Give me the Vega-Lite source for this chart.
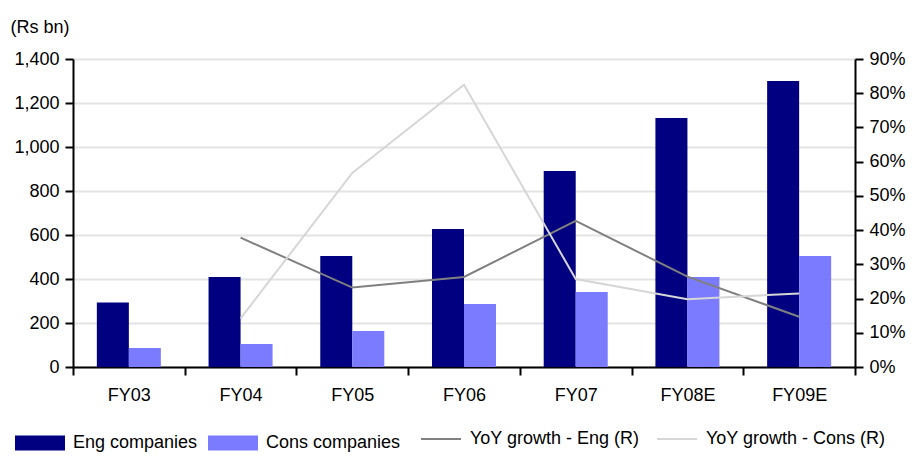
{
  "$schema": "https://vega.github.io/schema/vega-lite/v6.json",
  "width": 782,
  "height": 308,
  "autosize": {"type": "none"},
  "padding": {"left": 73, "top": 59, "right": 62, "bottom": 90},
  "background": "white",
  "config": {
    "font": "Liberation Sans, Arial, sans-serif",
    "view": {"stroke": null},
    "axis": {"labelFont": "Liberation Sans, Arial, sans-serif", "labelFontSize": 18, "labelColor": "#000", "domainColor": "#000", "domainWidth": 2, "tickColor": "#000", "tickWidth": 2, "tickSize": 8},
    "legend": {"labelFont": "Liberation Sans, Arial, sans-serif", "labelFontSize": 18, "labelColor": "#000", "padding": 0, "labelLimit": 400}
  },
  "datasets": {
    "bars": [
      {"fy": "FY03", "series": "Eng companies", "value": 293},
      {"fy": "FY03", "series": "Cons companies", "value": 86},
      {"fy": "FY04", "series": "Eng companies", "value": 409},
      {"fy": "FY04", "series": "Cons companies", "value": 105},
      {"fy": "FY05", "series": "Eng companies", "value": 505},
      {"fy": "FY05", "series": "Cons companies", "value": 164},
      {"fy": "FY06", "series": "Eng companies", "value": 627},
      {"fy": "FY06", "series": "Cons companies", "value": 286},
      {"fy": "FY07", "series": "Eng companies", "value": 891},
      {"fy": "FY07", "series": "Cons companies", "value": 341},
      {"fy": "FY08E", "series": "Eng companies", "value": 1132},
      {"fy": "FY08E", "series": "Cons companies", "value": 409},
      {"fy": "FY09E", "series": "Eng companies", "value": 1300},
      {"fy": "FY09E", "series": "Cons companies", "value": 505}
    ],
    "growth": [
      {"fy": "FY04", "series": "YoY growth - Eng (R)", "value": 0.378},
      {"fy": "FY05", "series": "YoY growth - Eng (R)", "value": 0.232},
      {"fy": "FY06", "series": "YoY growth - Eng (R)", "value": 0.263},
      {"fy": "FY07", "series": "YoY growth - Eng (R)", "value": 0.427},
      {"fy": "FY08E", "series": "YoY growth - Eng (R)", "value": 0.264},
      {"fy": "FY09E", "series": "YoY growth - Eng (R)", "value": 0.147},
      {"fy": "FY04", "series": "YoY growth - Cons (R)", "value": 0.142},
      {"fy": "FY05", "series": "YoY growth - Cons (R)", "value": 0.567},
      {"fy": "FY06", "series": "YoY growth - Cons (R)", "value": 0.825},
      {"fy": "FY07", "series": "YoY growth - Cons (R)", "value": 0.257},
      {"fy": "FY08E", "series": "YoY growth - Cons (R)", "value": 0.198},
      {"fy": "FY09E", "series": "YoY growth - Cons (R)", "value": 0.215}
    ]
  },
  "layer": [
    {
      "data": {"name": "bars"},
      "mark": {"type": "bar"},
      "encoding": {
        "x": {"field": "fy", "type": "nominal", "sort": null,
          "scale": {"paddingInner": 0, "paddingOuter": 0},
          "axis": {"title": null, "labelAngle": 0, "tickBand": "extent", "labelPadding": 11}},
        "xOffset": {"field": "series", "type": "nominal", "sort": ["Eng companies", "Cons companies"],
          "scale": {"paddingInner": 0, "paddingOuter": 0.745}},
        "y": {"field": "value", "type": "quantitative",
          "scale": {"domain": [0, 1400], "nice": false},
          "axis": {"title": "(Rs bn)", "titleAngle": 0, "titleAlign": "left", "titleBaseline": "alphabetic", "titleX": -63, "titleY": -27, "titleFontSize": 18, "titleFontWeight": "normal", "titleFont": "Liberation Sans, Arial, sans-serif", "titleColor": "#000",
            "values": [0, 200, 400, 600, 800, 1000, 1200, 1400], "format": ",.0f", "grid": true, "gridColor": "#e3e3e3", "gridWidth": 2, "labelPadding": 6}},
        "color": {"field": "series", "type": "nominal", "sort": ["Eng companies", "Cons companies"],
          "scale": {"domain": ["Eng companies", "Cons companies"], "range": ["#000080", "#7b7bff"]},
          "legend": {"title": null, "orient": "none", "direction": "horizontal", "legendX": -58, "legendY": 359,
            "symbolType": "M-1,-0.3H1V0.3H-1Z", "symbolSize": 2500, "symbolOpacity": 1, "symbolStrokeWidth": 0, "labelOffset": 8, "columnPadding": 10}}
      }
    },
    {
      "data": {"name": "growth"},
      "mark": {"type": "line", "strokeWidth": 2},
      "encoding": {
        "x": {"field": "fy", "type": "nominal", "sort": null},
        "y": {"field": "value", "type": "quantitative",
          "scale": {"domain": [0, 0.9], "nice": false},
          "axis": {"title": null, "orient": "right", "values": [0, 0.1, 0.2, 0.3, 0.4, 0.5, 0.6, 0.7, 0.8, 0.9], "format": ".0%", "grid": false, "labelPadding": 6}},
        "stroke": {"field": "series", "type": "nominal",
          "scale": {"domain": ["YoY growth - Eng (R)", "YoY growth - Cons (R)"], "range": ["#808080", "#d6d6d6"]},
          "legend": {"title": null, "orient": "none", "direction": "horizontal", "legendX": 347, "legendY": 359,
            "symbolType": "stroke", "symbolSize": 1600, "symbolStrokeWidth": 2, "labelOffset": 8, "columnPadding": 13}}
      }
    }
  ],
  "resolve": {"scale": {"y": "independent"}}
}
